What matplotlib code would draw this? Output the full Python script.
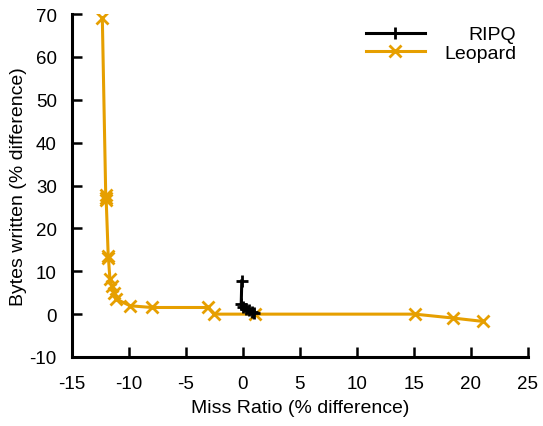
import matplotlib
matplotlib.use('Agg')
import matplotlib.pyplot as plt

plt.rcParams['font.family'] = ['Liberation Sans', 'DejaVu Sans']
plt.rcParams['axes.unicode_minus'] = False

# Leopard curve (miss ratio diff, bytes written diff)
leopard_x = [-12.34, -12.04, -12.04, -12.0, -11.82, -11.8, -11.67, -11.5, -11.3, -11.1,
             -9.9, -8.0, -3.04, -2.54, 1.05, 15.09, 18.4, 21.08]
leopard_y = [69.2, 27.8, 27.2, 26.7, 13.5, 13.0, 8.1, 6.6, 5.0, 3.5,
             1.95, 1.55, 1.55, 0.0, 0.0, 0.0, -0.9, -1.7]

# RIPQ points
ripq_x = [-0.1, -0.15, 0.0, 0.25, 0.5, 0.8, 1.0]
ripq_y = [7.75, 2.3, 1.55, 1.2, 0.9, 0.5, 0.2]

xticks = [-15, -10, -5, 0, 5, 10, 15, 20, 25]
yticks = [-10, 0, 10, 20, 30, 40, 50, 60, 70]

gold = '#E69F00'

fig = plt.figure(figsize=(5.43, 4.27), dpi=100)
ax = fig.add_axes([0.1326, 0.1616, 0.8394, 0.803])

ax.plot(ripq_x, ripq_y, color='black', lw=2.2, marker='+', ms=9, mew=2,
        label='RIPQ', zorder=3)
ax.plot(leopard_x, leopard_y, color=gold, lw=2.2, marker='x', ms=8, mew=2,
        label='Leopard', zorder=2)

ax.set_xlim(-15, 25)
ax.set_ylim(-10, 70)
ax.set_xticks(xticks)
ax.set_yticks(yticks)

for s in ['top', 'right']:
    ax.spines[s].set_visible(False)
for s in ['left', 'bottom']:
    ax.spines[s].set_linewidth(2.2)
ax.tick_params(direction='in', length=7, width=1.8, labelsize=13.5)
ax.tick_params(axis='x', pad=13)
ax.tick_params(axis='y', pad=11)

ax.set_xlabel('Miss Ratio (% difference)', fontsize=14, labelpad=5)
ax.set_ylabel('Bytes written (% difference)', fontsize=14, labelpad=1.5)

leg = ax.legend(loc='upper right', bbox_to_anchor=(1.0, 1.0), frameon=False,
                fontsize=14, handlelength=3.0, handletextpad=1.0,
                labelspacing=0.05, borderaxespad=0.2)

# right-align legend text like gnuplot (shift shorter labels, in pixels)
fig.canvas.draw()
texts = leg.get_texts()
widths = [t.get_window_extent().width for t in texts]
maxw = max(widths)
for t, w in zip(texts, widths):
    t.set_position((maxw - w, 0))

fig.savefig('out.png', dpi=100)
